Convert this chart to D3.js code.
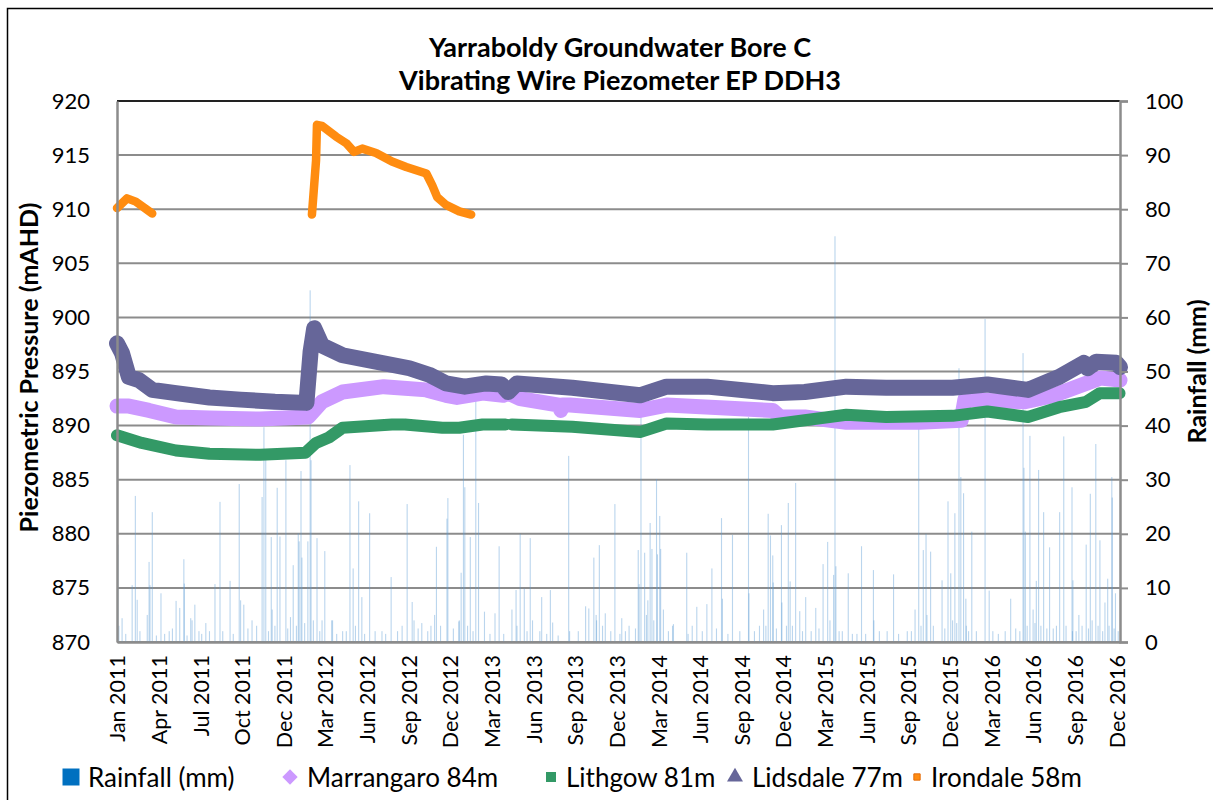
<!DOCTYPE html>
<html>
<head>
<meta charset="utf-8">
<script src="https://cdn.jsdelivr.net/npm/d3@7"></script>
<style>
  body { margin: 0; background: #fff; }
  svg { display: block; font-family: Lato, "Open Sans", sans-serif; }
</style>
</head>
<body>
<svg id="chart" width="1213" height="800"></svg>
<script>
// ---- data ----
var titleLines = ["Yarraboldy Groundwater Bore C", "Vibrating Wire Piezometer EP DDH3"];
var leftTicks = [870, 875, 880, 885, 890, 895, 900, 905, 910, 915, 920];
var rightTicks = [0, 10, 20, 30, 40, 50, 60, 70, 80, 90, 100];
var tickLabels = ["Jan 2011", "Apr 2011", "Jul 2011", "Oct 2011", "Dec 2011", "Mar 2012", "Jun 2012",
  "Sep 2012", "Dec 2012", "Mar 2013", "Jun 2013", "Sep 2013", "Dec 2013", "Mar 2014", "Jun 2014",
  "Sep 2014", "Dec 2014", "Mar 2015", "Jun 2015", "Sep 2015", "Dec 2015", "Mar 2016", "Jun 2016",
  "Sep 2016", "Dec 2016"];

// daily rainfall (mm), only days with visible bars
var rainfall = [
  ["2011-01-03", 18], ["2011-01-05", 3], ["2011-01-12", 4.4], ["2011-02-03", 10.5], ["2011-02-10", 27],
  ["2011-02-14", 7.8], ["2011-03-08", 5], ["2011-03-12", 14.8], ["2011-03-14", 10.5], ["2011-03-19", 24],
  ["2011-04-07", 9], ["2011-04-25", 2], ["2011-05-10", 7.6], ["2011-05-18", 6.3], ["2011-05-27", 15.3],
  ["2011-05-28", 10.8], ["2011-06-11", 4.4], ["2011-06-14", 4], ["2011-06-20", 6.9], ["2011-06-29", 2],
  ["2011-07-14", 3.5], ["2011-07-22", 2], ["2011-08-03", 10.7], ["2011-08-14", 25.9], ["2011-09-05", 11.3],
  ["2011-09-25", 29.2], ["2011-09-28", 7.7], ["2011-10-05", 6.9], ["2011-10-23", 4], ["2011-11-14", 26.8],
  ["2011-11-18", 39.7], ["2011-11-22", 35], ["2011-12-04", 19.4], ["2011-12-06", 6], ["2011-12-17", 28.5],
  ["2011-12-23", 19.5], ["2012-01-05", 33.6], ["2012-01-15", 4.6], ["2012-01-21", 14.2], ["2012-02-01", 20.1],
  ["2012-02-03", 18.6], ["2012-02-07", 31.6], ["2012-02-09", 15.6], ["2012-02-22", 18.6], ["2012-02-27", 65],
  ["2012-02-29", 33.6], ["2012-03-13", 19.2], ["2012-03-24", 4], ["2012-03-30", 16.8], ["2012-04-14", 4],
  ["2012-04-16", 4], ["2012-05-08", 2], ["2012-05-24", 32.7], ["2012-05-31", 13.6], ["2012-06-05", 3],
  ["2012-06-12", 26], ["2012-06-19", 8.3], ["2012-07-06", 23.8], ["2012-08-02", 2], ["2012-08-22", 12],
  ["2012-09-15", 3], ["2012-09-26", 25.5], ["2012-10-07", 7.4], ["2012-10-11", 4], ["2012-10-28", 3.5],
  ["2012-11-17", 3], ["2012-11-25", 5], ["2012-11-29", 17.6], ["2012-12-22", 22.8], ["2012-12-24", 26.6],
  ["2013-01-17", 3.8], ["2013-01-18", 4], ["2013-01-22", 12.8], ["2013-01-27", 38.3], ["2013-01-30", 28.6],
  ["2013-02-11", 19.4], ["2013-02-23", 44.7], ["2013-03-01", 25.7], ["2013-03-14", 5.6], ["2013-03-26", 1.5],
  ["2013-04-06", 5.3], ["2013-04-15", 17.7], ["2013-05-13", 6], ["2013-05-22", 9.6], ["2013-05-24", 3],
  ["2013-05-31", 20], ["2013-06-09", 9.9], ["2013-06-22", 19.2], ["2013-06-27", 4], ["2013-07-13", 2],
  ["2013-07-17", 8.3], ["2013-08-05", 9.6], ["2013-08-10", 3.6], ["2013-09-14", 34.4], ["2013-09-16", 2],
  ["2013-10-21", 6.6], ["2013-10-28", 6.2], ["2013-11-08", 15.6], ["2013-11-13", 5], ["2013-11-14", 4],
  ["2013-11-20", 17.9], ["2013-12-03", 5.3], ["2013-12-24", 25.5], ["2014-01-04", 1.5], ["2014-01-08", 4.4],
  ["2014-01-24", 3], ["2014-02-13", 17], ["2014-02-15", 10.7], ["2014-02-19", 42], ["2014-02-27", 16.5],
  ["2014-03-03", 5], ["2014-03-06", 7.7], ["2014-03-11", 22], ["2014-03-15", 17.2], ["2014-03-25", 30.1],
  ["2014-03-27", 16.2], ["2014-04-01", 23.3], ["2014-04-03", 17.2], ["2014-04-09", 6], ["2014-04-29", 3],
  ["2014-05-01", 3.3], ["2014-05-30", 16.5], ["2014-06-11", 3], ["2014-06-21", 6.5], ["2014-07-13", 7],
  ["2014-07-24", 13.6], ["2014-08-14", 22.9], ["2014-08-16", 8], ["2014-09-07", 19.8], ["2014-09-23", 2],
  ["2014-10-12", 41.6], ["2014-10-13", 9], ["2014-11-05", 3], ["2014-11-14", 6], ["2014-11-24", 23.7],
  ["2014-11-29", 19.7], ["2014-12-04", 16], ["2014-12-05", 11], ["2014-12-23", 21.6], ["2014-12-24", 7.3],
  ["2015-01-03", 3], ["2015-01-07", 25.7], ["2015-01-11", 11.2], ["2015-01-23", 29.4], ["2015-02-01", 5.7],
  ["2015-02-14", 8.3], ["2015-02-26", 2], ["2015-03-08", 6.3], ["2015-03-24", 14.4], ["2015-04-03", 18.5],
  ["2015-04-08", 4], ["2015-04-16", 12.4], ["2015-04-19", 75], ["2015-04-21", 14], ["2015-05-05", 2],
  ["2015-05-18", 12.7], ["2015-06-06", 1.5], ["2015-06-16", 17.7], ["2015-07-12", 13.3], ["2015-07-13", 4],
  ["2015-08-11", 2], ["2015-08-25", 12.5], ["2015-09-24", 2], ["2015-10-11", 6], ["2015-10-19", 39.4],
  ["2015-10-29", 17], ["2015-11-04", 20], ["2015-11-06", 5], ["2015-11-14", 16.7], ["2015-12-09", 11.4],
  ["2015-12-22", 26], ["2015-12-28", 12.7], ["2016-01-01", 4], ["2016-01-06", 23.8], ["2016-01-15", 50.6],
  ["2016-01-19", 30.5], ["2016-01-25", 27.5], ["2016-01-30", 8], ["2016-01-31", 3], ["2016-02-12", 20.4],
  ["2016-03-12", 59.7], ["2016-03-21", 9.5], ["2016-03-29", 2], ["2016-05-07", 8], ["2016-05-27", 2],
  ["2016-06-03", 53.4], ["2016-06-05", 32.2], ["2016-06-08", 20.4], ["2016-06-18", 38.1], ["2016-06-25", 6],
  ["2016-07-02", 11.3], ["2016-07-07", 31.8], ["2016-07-18", 24], ["2016-07-31", 17.5], ["2016-08-15", 3],
  ["2016-08-22", 24], ["2016-08-31", 38], ["2016-09-18", 28.6], ["2016-09-19", 2], ["2016-09-20", 11.4],
  ["2016-10-03", 5], ["2016-10-19", 18], ["2016-10-28", 27.4], ["2016-11-01", 4], ["2016-11-09", 36.6],
  ["2016-11-18", 18.8], ["2016-11-29", 7.3], ["2016-12-05", 11.7], ["2016-12-08", 3], ["2016-12-14", 30.5],
  ["2016-12-15", 26.7], ["2016-12-22", 9]
];
// light showers forming the fringe along the base
var showers = [
  ["2011-01-20", 1.5], ["2011-02-20", 2], ["2011-03-28", 1.2], ["2011-04-15", 1.5], ["2011-05-02", 2.5],
  ["2011-06-03", 1.2], ["2011-07-05", 1.5], ["2011-08-20", 2], ["2011-09-12", 1.5], ["2011-10-14", 2.5],
  ["2011-11-02", 3], ["2011-11-28", 2], ["2011-12-12", 3], ["2012-01-09", 2.5], ["2012-01-28", 3],
  ["2012-02-15", 3.5], ["2012-03-05", 4], ["2012-03-19", 2], ["2012-04-25", 1.5], ["2012-05-16", 2],
  ["2012-06-25", 1.5], ["2012-07-18", 2], ["2012-08-10", 1.5], ["2012-09-05", 2], ["2012-10-20", 2.5],
  ["2012-11-10", 2], ["2012-12-08", 3], ["2013-01-05", 2.5], ["2013-02-05", 3], ["2013-02-17", 2],
  ["2013-04-25", 1.5], ["2013-06-15", 2], ["2013-07-28", 1.5], ["2013-08-22", 1.2], ["2013-10-05", 2],
  ["2013-11-27", 3], ["2013-12-15", 2], ["2014-01-16", 2], ["2014-02-07", 2.5], ["2014-03-19", 4],
  ["2014-04-20", 2], ["2014-06-02", 1.5], ["2014-07-03", 2], ["2014-08-03", 2.5], ["2014-08-28", 1.5],
  ["2014-10-25", 2], ["2014-11-19", 3], ["2014-12-12", 2.5], ["2015-01-16", 3], ["2015-02-07", 2],
  ["2015-03-15", 2.5], ["2015-04-28", 2], ["2015-05-27", 1.5], ["2015-06-25", 1.5], ["2015-07-25", 2],
  ["2015-09-05", 1.5], ["2015-10-03", 2], ["2015-10-24", 3], ["2015-11-20", 3], ["2015-12-15", 2.5],
  ["2016-01-10", 3.5], ["2016-02-05", 2], ["2016-02-22", 2], ["2016-04-10", 1.5], ["2016-04-25", 2],
  ["2016-05-18", 2.5], ["2016-06-12", 3], ["2016-06-29", 3.5], ["2016-07-12", 3], ["2016-07-25", 2.5],
  ["2016-08-08", 2.5], ["2016-09-05", 3], ["2016-09-27", 2], ["2016-10-10", 3], ["2016-10-24", 2.5],
  ["2016-11-14", 3], ["2016-11-24", 2], ["2016-12-19", 2.5], ["2016-12-28", 2]
];

// piezometer levels (mAHD); null = gap in record
var marrangaro = [
  ["2011-01-01", 891.8], ["2011-01-27", 891.8], ["2011-03-12", 891.4], ["2011-05-10", 890.8],
  ["2011-07-22", 890.7], ["2011-11-10", 890.6], ["2012-02-23", 890.8], ["2012-03-24", 892.2],
  ["2012-05-08", 893.1], ["2012-08-06", 893.6], ["2012-11-07", 893.3], ["2012-12-20", 892.8],
  ["2013-01-13", 892.6], ["2013-03-10", 893.0], ["2013-04-24", 892.8], ["2013-05-05", 893.0],
  ["2013-05-31", 892.5], ["2013-08-24", 891.9], ["2013-08-28", 891.4], ["2013-09-01", 891.9],
  ["2013-09-17", 891.9], ["2014-02-17", 891.4], ["2014-04-16", 891.9], ["2014-12-04", 891.4],
  ["2014-12-20", 890.8], ["2015-02-12", 890.8], ["2015-05-14", 890.3], ["2015-10-20", 890.3],
  ["2016-01-20", 890.5], ["2016-01-28", 892.4], ["2016-06-05", 892.2], ["2016-08-10", 892.8],
  ["2016-10-19", 893.9], ["2016-11-20", 894.4], ["2017-01-01", 894.2]
];
var lithgow = [
  ["2011-01-01", 889.1], ["2011-02-24", 888.4], ["2011-05-10", 887.7], ["2011-07-22", 887.4],
  ["2011-11-10", 887.3], ["2012-02-17", 887.5], ["2012-03-11", 888.4], ["2012-04-08", 888.9],
  ["2012-05-08", 889.8], ["2012-08-24", 890.1], ["2012-09-17", 890.1], ["2012-09-18", null],
  ["2012-09-21", 890.1], ["2012-12-12", 889.8], ["2013-01-18", 889.8], ["2013-03-10", 890.1],
  ["2013-04-29", 890.1], ["2013-05-05", null], ["2013-05-13", 890.1], ["2013-09-22", 889.9],
  ["2014-02-17", 889.4], ["2014-04-16", 890.2], ["2014-07-14", 890.1], ["2014-12-04", 890.1],
  ["2015-02-12", 890.5], ["2015-05-14", 891.0], ["2015-08-09", 890.8], ["2016-01-01", 890.9],
  ["2016-03-17", 891.3], ["2016-06-14", 890.8], ["2016-08-21", 891.7], ["2016-10-19", 892.2],
  ["2016-11-18", 893.0], ["2016-12-31", 893.0]
];
var lidsdale = [
  ["2011-01-01", 897.6], ["2011-01-12", 896.7], ["2011-01-27", 894.5], ["2011-02-18", 894.2],
  ["2011-03-19", 893.3], ["2011-05-10", 893.0], ["2011-07-22", 892.6], ["2011-09-28", 892.4],
  ["2011-12-12", 892.2], ["2012-02-19", 892.1], ["2012-02-28", 896.8], ["2012-03-07", 899.0],
  ["2012-03-24", 897.4], ["2012-05-08", 896.5], ["2012-07-20", 895.9], ["2012-10-01", 895.3],
  ["2012-11-13", 894.7], ["2012-12-20", 893.9], ["2013-01-30", 893.6], ["2013-03-18", 893.9],
  ["2013-04-20", 893.8], ["2013-05-05", 893.1], ["2013-05-24", 893.9], ["2013-09-22", 893.5],
  ["2014-02-17", 892.8], ["2014-04-16", 893.6], ["2014-07-14", 893.6], ["2014-12-04", 893.0],
  ["2015-02-12", 893.1], ["2015-05-14", 893.6], ["2015-08-09", 893.5], ["2016-01-01", 893.5],
  ["2016-03-17", 893.8], ["2016-06-14", 893.3], ["2016-08-21", 894.5], ["2016-10-14", 895.8],
  ["2016-10-22", 895.3], ["2016-11-10", 895.9], ["2016-12-24", 895.8], ["2017-01-01", 895.4]
];
var irondale = [
  ["2011-01-01", 910.1], ["2011-01-23", 911.0], ["2011-02-11", 910.7], ["2011-03-19", 909.6],
  ["2011-03-20", null],
  ["2012-03-02", 909.5], ["2012-03-11", 914.5], ["2012-03-13", 917.8], ["2012-03-24", 917.7],
  ["2012-04-24", 916.7], ["2012-05-16", 916.1], ["2012-06-02", 915.3], ["2012-06-20", 915.6],
  ["2012-07-20", 915.2], ["2012-08-24", 914.4], ["2012-09-24", 913.9], ["2012-11-07", 913.3],
  ["2012-11-20", 912.2], ["2012-12-01", 911.1], ["2012-12-20", 910.4], ["2013-01-18", 909.8],
  ["2013-02-13", 909.5]
];

// ---- layout ----
var svg = d3.select("#chart");
var parse = d3.timeParse("%Y-%m-%d");
var plotL = 117, plotR = 1120, plotT = 101, plotB = 642;
var start = new Date(2011, 0, 1);

var x = d3.scaleTime().domain([start, new Date(2017, 0, 1)]).range([plotL, plotR]);
var y = d3.scaleLinear().domain([870, 920]).range([plotB, plotT]);
var y2 = d3.scaleLinear().domain([0, 100]).range([plotB, plotT]);

// Excel date axis: major unit of 91 days from the minimum
var tickDates = tickLabels.map(function (t, i) { return d3.timeDay.offset(start, 91 * i); });

// outer chart frame
svg.append("rect").attr("x", 7.5).attr("y", 8.5).attr("width", 1230).attr("height", 820)
  .attr("fill", "none").attr("stroke", "#000").attr("stroke-width", 1.5);

// gridlines
svg.append("g").selectAll("line").data(leftTicks).join("line")
  .attr("x1", plotL).attr("x2", plotR)
  .attr("y1", function (d) { return y(d); }).attr("y2", function (d) { return y(d); })
  .attr("stroke", function (d) { return d === 920 ? "#222" : "#8c8c8c"; })
  .attr("stroke-width", 2);

// rainfall columns (secondary axis)
svg.append("g").selectAll("rect").data(rainfall.concat(showers)).join("rect")
  .attr("x", function (d) { return x(parse(d[0])) - 0.5; })
  .attr("width", 1.1)
  .attr("y", function (d) { return y2(d[1]); })
  .attr("height", function (d) { return plotB - y2(d[1]); })
  .attr("fill", "#5b9bd5").attr("fill-opacity", 0.42);

// series
var line = d3.line()
  .defined(function (d) { return d[1] !== null; })
  .x(function (d) { return x(parse(d[0])); })
  .y(function (d) { return y(d[1]); });

var series = [
  { name: "Marrangaro 84m", data: marrangaro, color: "#cc99ff", width: 15 },
  { name: "Lithgow 81m", data: lithgow, color: "#339966", width: 12 },
  { name: "Lidsdale 77m", data: lidsdale, color: "#666699", width: 16 },
  { name: "Irondale 58m", data: irondale, color: "#ff8c10", width: 8.5 }
];
svg.append("g").selectAll("path").data(series).join("path")
  .attr("d", function (s) { return line(s.data); })
  .attr("fill", "none")
  .attr("stroke", function (s) { return s.color; })
  .attr("stroke-width", function (s) { return s.width; })
  .attr("stroke-linejoin", "round")
  .attr("stroke-linecap", "round");

// axes
var axL = svg.append("g").attr("transform", "translate(" + plotL + ",0)")
  .call(d3.axisLeft(y).tickValues(leftTicks).tickSize(0).tickPadding(27));
var axR = svg.append("g").attr("transform", "translate(" + plotR + ",0)")
  .call(d3.axisRight(y2).tickValues(rightTicks).tickSize(8).tickPadding(17));
var axB = svg.append("g").attr("transform", "translate(0," + plotB + ")")
  .call(d3.axisBottom(x).tickValues(tickDates).tickSize(0)
    .tickFormat(function (d, i) { return tickLabels[i]; }));

[axL, axR, axB].forEach(function (g) {
  g.select(".domain").attr("stroke", "#8c8c8c").attr("stroke-width", 2.5);
  g.selectAll(".tick line").attr("stroke", "#8c8c8c").attr("stroke-width", 2);
  g.selectAll("text").attr("fill", "#000").style("font-family", "Lato, sans-serif");
});
axL.selectAll("text").style("font-size", "22px");
axR.selectAll("text").style("font-size", "22px").attr("text-anchor", "start");
axB.selectAll("text").style("font-size", "21.5px")
  .attr("text-anchor", "end")
  .attr("transform", "rotate(-90)")
  .attr("x", -13).attr("y", 0).attr("dy", "0.36em");

// titles
svg.append("g").selectAll("text").data(titleLines).join("text")
  .attr("x", 620).attr("y", function (d, i) { return 57 + i * 33; })
  .attr("text-anchor", "middle")
  .style("font-size", "27px").style("font-weight", "bold")
  .text(function (d) { return d; });

svg.append("text")
  .attr("transform", "translate(38," + ((plotT + plotB) / 2 - 4) + ") rotate(-90)")
  .attr("text-anchor", "middle")
  .style("font-size", "25px").style("font-weight", "bold")
  .text("Piezometric Pressure (mAHD)");

svg.append("text")
  .attr("transform", "translate(1206," + ((plotT + plotB) / 2) + ") rotate(-90)")
  .attr("text-anchor", "middle")
  .style("font-size", "25px").style("font-weight", "bold")
  .text("Rainfall (mm)");

// legend
var legendItems = [
  { name: "Rainfall (mm)", color: "#0070c0", symbol: d3.symbolSquare, size: 289, cx: 71, tx: 88 },
  { name: "Marrangaro 84m", color: "#cc99ff", symbol: d3.symbolDiamond2, size: 150, cx: 290, tx: 307 },
  { name: "Lithgow 81m", color: "#339966", symbol: d3.symbolSquare, size: 100, cx: 551, tx: 566 },
  { name: "Lidsdale 77m", color: "#666699", symbol: d3.symbolTriangle, size: 110, cx: 735, tx: 752 },
  { name: "Irondale 58m", color: "#ff8c10", symbol: d3.symbolSquare, size: 40, cx: 917, tx: 931 }
];
var lg = svg.append("g").selectAll("g").data(legendItems).join("g");
lg.append("path")
  .attr("transform", function (d) { return "translate(" + d.cx + ",777)"; })
  .attr("d", function (d) { return d3.symbol(d.symbol, d.size)(); })
  .attr("fill", function (d) { return d.color; })
  .attr("stroke", function (d) { return d.name === "Irondale 58m" ? "#e46c0a" : "none"; });
lg.append("text")
  .attr("x", function (d) { return d.tx; }).attr("y", 787)
  .style("font-size", "26px")
  .text(function (d) { return d.name; });
</script>
</body>
</html>
